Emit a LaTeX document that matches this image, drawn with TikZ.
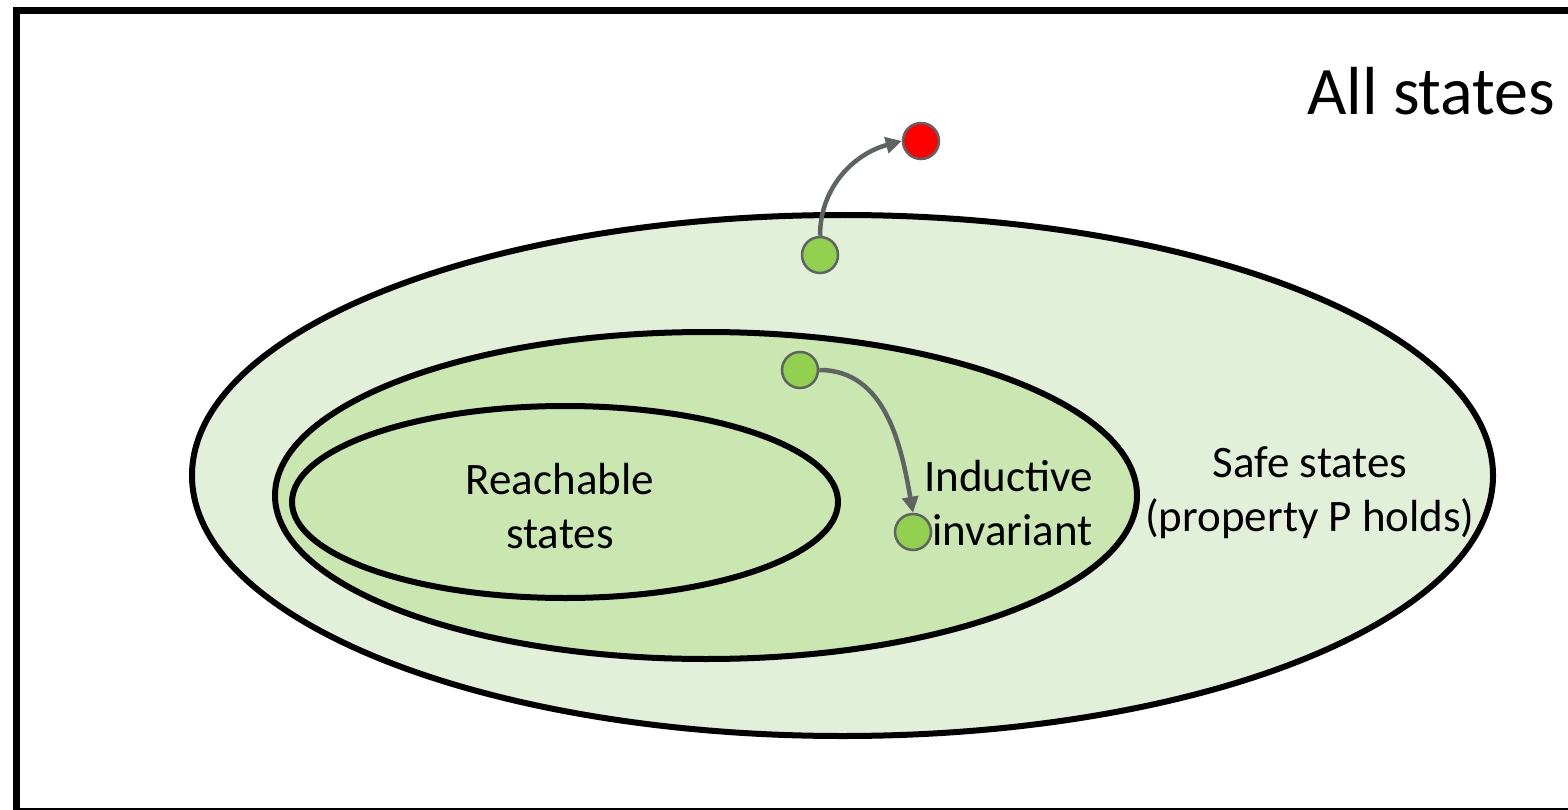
\documentclass[tikz,border=0pt]{standalone}
\usepackage{fontspec}
\setmainfont{Carlito}
\usetikzlibrary{arrows.meta}

\definecolor{safefill}{RGB}{226,240,217}
\definecolor{invfill}{RGB}{202,231,177}
\definecolor{dotgreen}{RGB}{146,208,80}
\definecolor{dotred}{RGB}{255,0,0}
\definecolor{edgegray}{RGB}{95,99,99}

\tikzset{
  region/.style={draw=black, line width=6pt},
  statedot/.style={circle, draw=edgegray, line width=2.5pt, minimum size=36pt, inner sep=0pt},
  goodstate/.style={statedot, fill=dotgreen},
  badstate/.style={statedot, fill=dotred},
  trans/.style={draw=edgegray, line width=4.5pt, -{Triangle[length=16pt,width=16pt]}},
  label/.style={font=\fontsize{45}{54}\selectfont, align=center, inner sep=0pt},
}

\begin{document}
\begin{tikzpicture}[x=1pt, y=1pt]
  \clip (0,0) rectangle (1568,-810);
  \fill[white] (0,0) rectangle (1568,-810);

  % outer frame: the whole state space
  \draw[line width=7pt] (16.5,-11) rectangle (1590,-811.5);
  \node[anchor=base west, inner sep=0pt, font=\fontsize{68}{80}\selectfont] (all) at (1307,-115) {All states};

  % nested regions
  \draw[region, fill=safefill] (842.5,-475.5) ellipse [x radius=650.5, y radius=260.5];
  \draw[region, fill=invfill] (706,-495.5) ellipse [x radius=431, y radius=163.5];
  \draw[region, fill=invfill] (565,-502) ellipse [x radius=273, y radius=96];

  \node[label] (reach) at (560,-506) {Reachable\\states};
  \node[label, align=right, anchor=east] (ind) at (1093,-503) {Inductive\\invariant};
  \node[label] (safe) at (1310,-493) {Safe states\\(property P holds)};

  % individual states and transitions
  \node[goodstate] (s1) at (820,-255) {};
  \node[badstate] (bad) at (921,-141) {};
  \node[goodstate] (s2) at (800,-370) {};
  \node[goodstate] (s3) at (913,-532) {};

  \draw[trans] (s1.north) to[out=90, in=195] (bad.west);
  \draw[trans] (s2.east) to[out=0, in=100] (s3.north);
\end{tikzpicture}
\end{document}
